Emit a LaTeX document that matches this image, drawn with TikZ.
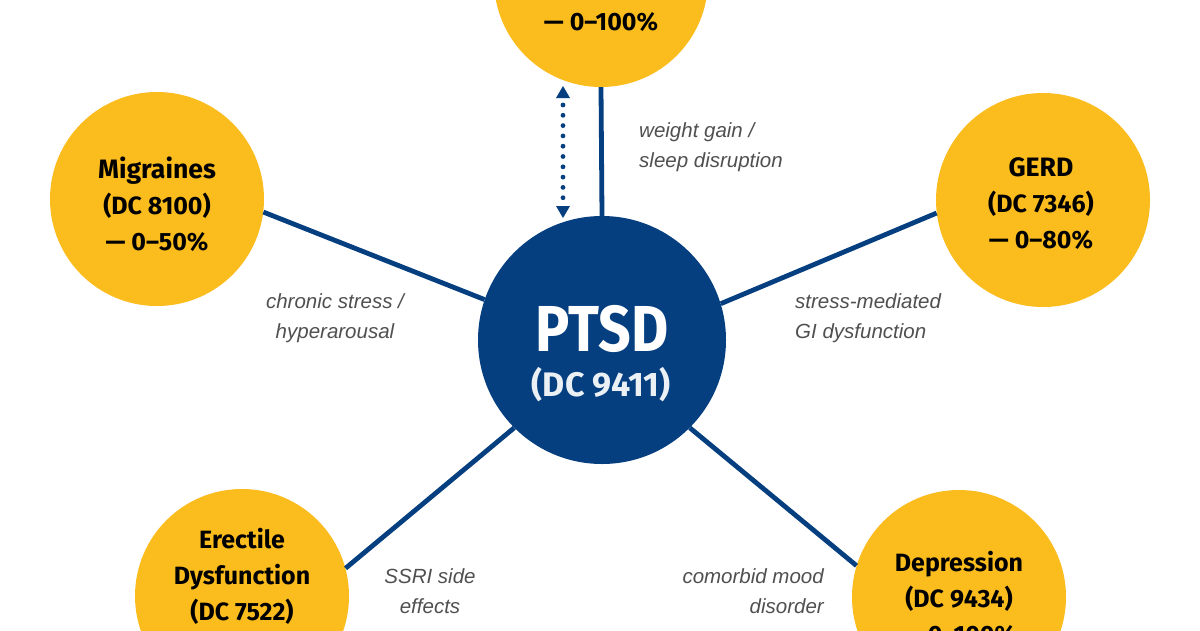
\documentclass[tikz,border=0pt]{standalone}
\usepackage{fontspec}
\setmainfont{Fira Sans}
\newfontfamily\lblfont{Liberation Sans}
\newfontfamily\hubfont[FakeStretch=0.88]{Fira Sans}
\definecolor{navy}{HTML}{053F80}
\definecolor{gold}{HTML}{FBBC1D}
\definecolor{lblgray}{HTML}{505050}
\tikzset{
  cond/.style={circle,fill=gold,draw=none,minimum size=214pt,inner sep=0pt},
  condtext/.style={font=\fontsize{25}{36}\selectfont\bfseries,text=black,align=center,inner sep=0pt},
  hub/.style={circle,fill=navy,draw=none,minimum size=248pt,inner sep=0pt},
  link/.style={draw=navy,line width=4.8pt},
  lbl/.style={font=\lblfont\fontsize{20.5}{30}\selectfont\itshape,text=lblgray,inner sep=0pt},
}
\begin{document}
\begin{tikzpicture}[x=1pt,y=-1pt]
\useasboundingbox (0,0) rectangle (1200,630);
\clip (0,0) rectangle (1200,630);
\fill[white] (0,0) rectangle (1200,630);
\node[cond] (top) at (601,-20) {};
\node[cond] (mig) at (157,199) {};
\node[cond] (gerd) at (1043,200) {};
\node[cond] (ed) at (242,596) {};
\node[cond] (dep) at (959,597) {};
\node[hub] (ptsd) at (602,340) {};
\draw[link] (ptsd.north) -- (top.south);
\draw[link] (ptsd.161.7) -- (mig.-7.5);
\draw[link] (ptsd.17.2) -- (gerd.187);
\draw[link] (ptsd.225) -- (ed.15.1);
\draw[link] (ptsd.-45.6) -- (dep.163.7);
\coordinate (da) at (563,86);
\coordinate (db) at (563,218);
\draw[navy,line width=4.8pt,line cap=round,dash pattern=on 0pt off 10.3pt,shorten >=20pt,shorten <=19pt] (da) -- (db);
\fill[navy] (da) -- ++(7,12) -- ++(-14,0) -- cycle;
\fill[navy] (db) -- ++(7,-12) -- ++(-14,0) -- cycle;
\node[condtext] (tp) at (601,-14) {(\hspace{88pt})};
\node[condtext] (tt) at (601,22) {— 0–100\%};
\node[condtext] (mt) at (157,204) {{\fontsize{26.6}{36}\selectfont Migraines}\\(DC 8100)\\— 0–50\%};
\node[condtext] (gt) at (1041,204) {{\fontsize{26.6}{36}\selectfont GERD}\\(DC 7346)\\— 0–80\%};
\node[condtext,anchor=north] (et) at (242,528.5) {Erectile\\Dysfunction\\(DC 7522)};
\node[condtext,anchor=north] (dt) at (959,551.5) {Depression\\(DC 9434)\\— 0–100\%};
\node[font=\hubfont\fontsize{65}{65}\selectfont\bfseries,text=white,inner sep=0pt] (pt) at (602,329) {PTSD};
\node[font=\fontsize{34}{34}\selectfont\bfseries,text=white!92!navy,inner sep=0pt] (pd) at (601,385) {(DC 9411)};
\node[lbl,align=left,anchor=west] (l1) at (639,147) {weight gain /\\sleep disruption};
\node[lbl,align=center] (l2) at (335,318) {chronic stress /\\hyperarousal};
\node[lbl,align=left,anchor=west] (l3) at (795,318) {stress-mediated\\GI dysfunction};
\node[lbl,align=center] (l4) at (430,591) {SSRI side\\effects};
\node[lbl,align=right,anchor=east] (l5) at (824,591) {comorbid mood\\disorder};
\end{tikzpicture}
\end{document}
